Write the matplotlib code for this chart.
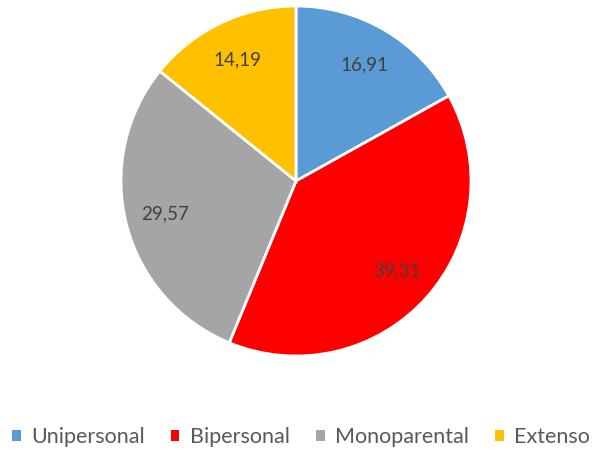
import numpy as np
import matplotlib.pyplot as plt
from matplotlib.patches import Patch

# ── Data ──────────────────────────────────────────────────────────────────────
categories = ['Unipersonal', 'Bipersonal', 'Monoparental', 'Extenso']
values = [16.91, 39.31, 29.57, 14.19]
colors = ['#5B9BD5', '#FF0000', '#A5A5A5', '#FFC000']
value_labels = ['16,91', '39,31', '29,57', '14,19']

plt.rcParams['font.family'] = ['Lato', 'DejaVu Sans']

fig = plt.figure(figsize=(5.94, 4.49), dpi=100)
cx, cy, r = 296, 449 - 181, 175
ax = fig.add_axes([(cx - r) / 594, (cy - r) / 449, 2 * r / 594, 2 * r / 449])

wedges, _ = ax.pie(values, colors=colors, startangle=90, counterclock=False,
                   radius=1.0, wedgeprops=dict(edgecolor='white', linewidth=2))

# value labels inside each slice
for w, lab in zip(wedges, value_labels):
    mid = np.deg2rad((w.theta1 + w.theta2) / 2)
    ax.text(0.77 * np.cos(mid), 0.77 * np.sin(mid), lab, ha='center', va='center',
            fontsize=13.5, color='#404040')

ax.set_xlim(-1.0, 1.0)
ax.set_ylim(-1.0, 1.0)
ax.set_aspect('equal')
ax.axis('off')

handles = [Patch(facecolor=c, edgecolor='none') for c in colors]
fig.legend(handles, categories, loc='center', bbox_to_anchor=(0.507, 0.027),
           ncol=4, frameon=False, fontsize=15.5, labelcolor='#595959',
           handlelength=0.4, handleheight=0.4, handletextpad=0.5, columnspacing=1.2,
           borderpad=0.1)

fig.savefig('out.png', dpi=100)
